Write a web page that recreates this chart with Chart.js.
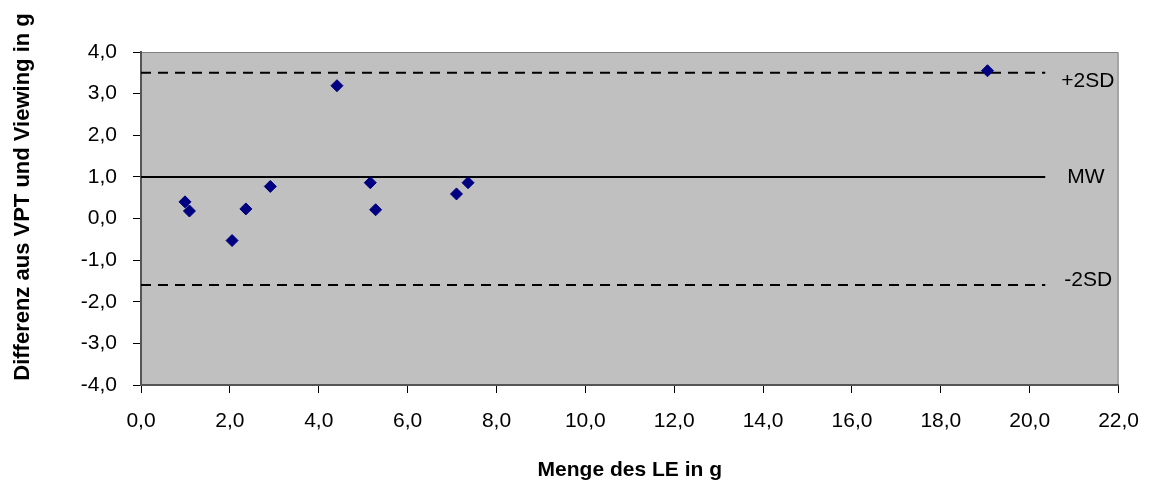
<!DOCTYPE html>
<html>
<head>
<meta charset="utf-8">
<script src="https://cdn.jsdelivr.net/npm/chart.js@4/dist/chart.umd.min.js"></script>
<style>
  html, body { margin: 0; padding: 0; background: #fff; }
  #wrap { width: 1155px; height: 488px; }
</style>
</head>
<body>
<div id="wrap"><canvas id="blandAltman"></canvas></div>
<script>
// Menge des LE (x) vs. Differenz VPT - Viewing (y)
const mengeLE = [0.99, 1.09, 2.05, 2.36, 2.91, 4.41, 5.16, 5.28, 7.10, 7.36, 19.05];
const differenz = [0.40, 0.18, -0.53, 0.23, 0.77, 3.19, 0.86, 0.21, 0.59, 0.86, 3.55];

// reference lines
const refNames = ['+2SD', 'MW', '-2SD'];
const refValues = [3.5, 1.0, -1.6];
const refEnd = 20.35;

const xTicks = [0, 2, 4, 6, 8, 10, 12, 14, 16, 18, 20, 22];
const yTicks = [-4, -3, -2, -1, 0, 1, 2, 3, 4];

const yTitle = 'Differenz aus VPT und Viewing in g';

const fontFam = '"Liberation Sans", Arial, sans-serif';
const fmt = v => v.toFixed(1).replace('.', ',');

const plotBg = {
    id: 'plotBg',
    beforeDraw(chart) {
        const { ctx, chartArea: a } = chart;
        ctx.save();
        ctx.fillStyle = '#c0c0c0';
        ctx.fillRect(a.left, a.top, a.right - a.left, a.bottom - a.top);
        ctx.strokeStyle = '#808080';
        ctx.lineWidth = 1;
        ctx.beginPath();
        ctx.moveTo(a.left, a.top + 0.5);
        ctx.lineTo(a.right - 0.5, a.top + 0.5);
        ctx.lineTo(a.right - 0.5, a.bottom);
        ctx.stroke();
        ctx.restore();
    }
};

// text labels at the end of the reference lines + the y title (sits a bit above centre in the original)
const refLabels = {
    id: 'refLabels',
    afterDatasetsDraw(chart) {
        const { ctx, scales } = chart;
        const shifts = [8, 0, -5];
        const xOff = [16, 22, 19];
        ctx.save();
        ctx.fillStyle = '#000';
        ctx.font = '21px ' + fontFam;
        ctx.textBaseline = 'middle';
        refNames.forEach((name, i) => {
            const x = scales.x.getPixelForValue(refEnd) + xOff[i];
            const y = scales.y.getPixelForValue(refValues[i]) + shifts[i];
            ctx.fillText(name, x, y);
        });
        ctx.translate(23, 197);
        ctx.rotate(-Math.PI / 2);
        ctx.textAlign = 'center';
        ctx.font = 'bold 22px ' + fontFam;
        ctx.fillText(yTitle, 0, 0);
        ctx.restore();
    }
};

const refDatasets = refNames.map((name, i) => ({
    label: name,
    data: [{ x: 0, y: refValues[i] }, { x: refEnd, y: refValues[i] }],
    showLine: true,
    borderColor: '#000',
    borderWidth: 2,
    borderDash: name === 'MW' ? [] : [10, 7],
    pointRadius: 0,
    fill: false
}));

new Chart(document.getElementById('blandAltman').getContext('2d'), {
    type: 'scatter',
    data: {
        datasets: [{
            label: 'Differenz',
            data: mengeLE.map((x, i) => ({ x: x, y: differenz[i] })),
            pointStyle: 'rectRot',
            pointRadius: 6,
            backgroundColor: '#000080',
            borderColor: '#000080',
            borderWidth: 1
        }].concat(refDatasets)
    },
    options: {
        responsive: true,
        maintainAspectRatio: false,
        animation: false,
        layout: { padding: { top: 52, right: 35, left: 0, bottom: 0 } },
        plugins: {
            legend: { display: false },
            tooltip: { enabled: false }
        },
        scales: {
            x: {
                type: 'linear',
                min: 0,
                max: 22,
                afterFit: s => { s.height = 103; },
                afterBuildTicks: s => { s.ticks = xTicks.map(v => ({ value: v })); },
                grid: { drawOnChartArea: false, tickLength: 8, color: '#000' },
                border: { color: '#555', width: 2 },
                ticks: {
                    color: '#000',
                    padding: 16,
                    maxRotation: 0,
                    font: { family: fontFam, size: 21 },
                    callback: v => fmt(v)
                },
                title: {
                    display: true,
                    text: 'Menge des LE in g',
                    color: '#000',
                    font: { family: fontFam, size: 21, weight: 'bold' },
                    padding: { top: 0, bottom: 5 }
                }
            },
            y: {
                min: -4,
                max: 4,
                afterFit: s => { s.width = 141; },
                afterBuildTicks: s => { s.ticks = yTicks.map(v => ({ value: v })); },
                grid: { drawOnChartArea: false, tickLength: 8, color: '#000' },
                border: { color: '#555', width: 2 },
                ticks: {
                    color: '#000',
                    padding: 16,
                    font: { family: fontFam, size: 21 },
                    callback: v => fmt(v)
                },
                title: { display: false }
            }
        }
    },
    plugins: [plotBg, refLabels]
});
</script>
</body>
</html>
